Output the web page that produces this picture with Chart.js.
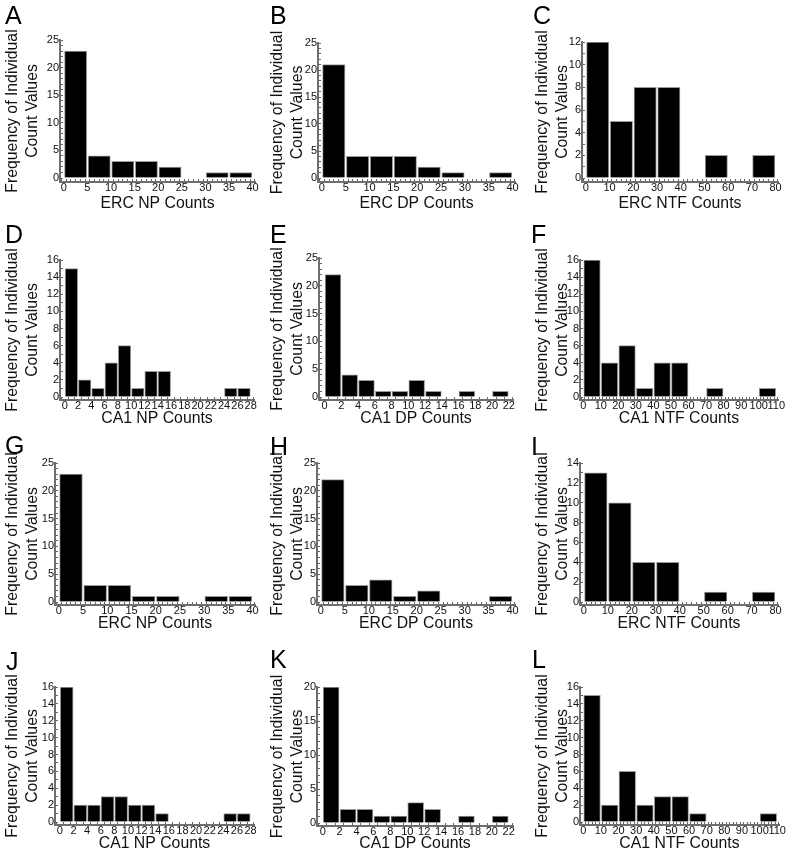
<!DOCTYPE html>
<html><head><meta charset="utf-8">
<script src="https://cdn.jsdelivr.net/npm/chart.js@4"></script>
<style>
html,body{margin:0;padding:0;background:#fff;}
body{width:800px;height:856px;position:relative;overflow:hidden;font-family:"Liberation Sans",Arial,sans-serif;}
.cell{position:absolute;}
.letter{position:absolute;font-size:25px;line-height:1;color:#000;font-family:"Liberation Sans",Arial,sans-serif;}
</style></head><body>
<script>
// ---------- DATA ----------
const panelLetters = ['A','B','C','D','E','F','G','H','I','J','K','L'];
const xTitles = ['ERC NP Counts','ERC DP Counts','ERC NTF Counts',
                 'CA1 NP Counts','CA1 DP Counts','CA1 NTF Counts',
                 'ERC NP Counts','ERC DP Counts','ERC NTF Counts',
                 'CA1 NP Counts','CA1 DP Counts','CA1 NTF Counts'];
const yTitle = ['Frequency of Individual','Count Values'];

const countsA = [23,4,3,3,2,0,1,1];
const countsB = [21,4,4,4,2,1,0,1];
const countsC = [12,5,8,8,0,2,0,2];
const countsD = [15,2,1,4,6,1,3,3,0,0,0,0,1,1];
const countsE = [22,4,3,1,1,3,1,0,1,0,1];
const countsF = [16,4,6,1,4,4,0,1,0,0,1];
const countsG = [23,3,3,1,1,0,1,1];
const countsH = [22,3,4,1,2,0,0,1];
const countsI = [13,10,4,4,0,1,0,1];
const countsJ = [16,2,2,3,3,2,2,1,0,0,0,0,1,1];
const countsK = [20,2,2,1,1,3,2,0,1,0,1];
const countsL = [15,2,6,2,3,3,1,0,0,0,1];
const allCounts = [countsA,countsB,countsC,countsD,countsE,countsF,countsG,countsH,countsI,countsJ,countsK,countsL];

const binWidths = [5,5,10,2,2,10,5,5,10,2,2,10];
const xMaxes    = [40,40,80,28,22,110,40,40,80,28,22,110];
const xMajor    = [5,5,10,2,2,10,5,5,10,2,2,10];
const xMinor    = [1,1,2,1,1,2,1,1,2,1,1,2];
const yMaxes    = [25,25,12,16,25,16,25,25,14,16,20,16];
const yMajor    = [5,5,2,2,5,2,5,5,2,2,5,2];
const yMinor    = [1,1,1,1,1,1,1,1,1,1,1,1];

// ---------- LAYOUT (pixel geometry of each panel) ----------
const cells = [
  {x:0,  y:0,  w:265,h:215, axisX:60,  yTop:40,  y0:178, xLine:182, xEnd:255, titleY:203.5, lx:5,  ly:6},
  {x:265,y:0,  w:265,h:215, axisX:318, yTop:43,  y0:178, xLine:182, xEnd:515, titleY:203.5, lx:270,ly:6},
  {x:530,y:0,  w:270,h:215, axisX:582, yTop:42,  y0:178, xLine:182, xEnd:778, titleY:203.5, lx:533,ly:6},
  {x:0,  y:215,w:265,h:215, axisX:60,  yTop:260, y0:397, xLine:400, xEnd:254, titleY:419, lx:5,  ly:225},
  {x:265,y:215,w:265,h:215, axisX:319, yTop:258, y0:397, xLine:400, xEnd:513, titleY:419, lx:270,ly:225},
  {x:530,y:215,w:270,h:215, axisX:580, yTop:260, y0:397, xLine:400, xEnd:778, titleY:419, lx:531,ly:225},
  {x:0,  y:430,w:265,h:215, axisX:55,  yTop:463, y0:602, xLine:605, xEnd:255, titleY:623.5, lx:5,  ly:436},
  {x:265,y:430,w:265,h:215, axisX:317, yTop:463, y0:602, xLine:605, xEnd:515, titleY:623.5, lx:270,ly:437},
  {x:530,y:430,w:270,h:215, axisX:580, yTop:463, y0:602, xLine:605, xEnd:778, titleY:623.5, lx:531,ly:437},
  {x:0,  y:645,w:265,h:211, axisX:55,  yTop:687, y0:822, xLine:825, xEnd:254, titleY:843.5, lx:6,  ly:652},
  {x:265,y:645,w:265,h:211, axisX:317, yTop:687, y0:823, xLine:826, xEnd:513, titleY:843.5, lx:270,ly:650},
  {x:530,y:645,w:270,h:211, axisX:580, yTop:687, y0:822, xLine:825, xEnd:779, titleY:843.5, lx:532,ly:650}
];

const FONT = '"Liberation Sans", Arial, sans-serif';
const TITLE_SIZE = 15.8, TITLE_LH = 1.27;
const TICK_SIZE = 11;
const isMult = (v, s) => Math.abs(v / s - Math.round(v / s)) < 1e-6;

cells.forEach((c, i) => {
  const div = document.createElement('div');
  div.className = 'cell';
  div.style.left = c.x + 'px'; div.style.top = c.y + 'px';
  div.style.width = c.w + 'px'; div.style.height = c.h + 'px';
  const cv = document.createElement('canvas');
  cv.width = c.w; cv.height = c.h;
  cv.style.width = c.w + 'px'; cv.style.height = c.h + 'px';
  div.appendChild(cv);
  document.body.appendChild(div);

  const lt = document.createElement('div');
  lt.className = 'letter';
  lt.textContent = panelLetters[i];
  lt.style.left = c.lx + 'px';
  lt.style.top = (c.ly - 3.3) + 'px';
  document.body.appendChild(lt);

  const bw = binWidths[i];
  const data = allCounts[i].map((v, k) => ({x: k * bw + bw / 2, y: v}));
  const yMax = yMaxes[i], xMax = xMaxes[i];
  const yMin = -(c.xLine - c.y0) / (c.y0 - c.yTop) * yMax;
  const xMin = -1.5 / (c.xEnd - c.axisX) * xMax;
  const lh = TITLE_SIZE * TITLE_LH;
  const xTitlePadBottom = (c.y + c.h) - c.titleY - lh / 2;

  new Chart(cv, {
    type: 'bar',
    data: { datasets: [{
      data: data,
      backgroundColor: '#000',
      borderColor: '#9a9a9a',
      borderWidth: 1,
      barThickness: 'flex',
      categoryPercentage: 0.94,
      barPercentage: 1
    }]},
    options: {
      responsive: false,
      animation: false,
      events: [],
      plugins: { legend: {display: false}, tooltip: {enabled: false} },
      layout: { padding: { left: 0, top: c.yTop - c.y, right: (c.x + c.w) - c.xEnd, bottom: 0 } },
      scales: {
        x: {
          type: 'linear', min: xMin, max: xMax,
          afterBuildTicks: s => { s.ticks = s.ticks.filter(t => t.value >= -1e-6 && t.value <= xMax + 1e-6); },
          afterFit: s => { s.height = (c.y + c.h) - c.xLine; },
          ticks: {
            stepSize: xMinor[i], includeBounds: false, autoSkip: false,
            maxRotation: 0, minRotation: 0, padding: 2.5, color: '#111',
            font: {family: FONT, size: TICK_SIZE},
            callback: v => isMult(v, xMajor[i]) ? String(Math.round(v)) : ''
          },
          grid: { display: true, drawOnChartArea: false, drawTicks: true, tickLength: -3, color: '#666' },
          border: { display: true, color: '#6e6e6e', width: 2 },
          title: { display: true, text: xTitles[i], color: '#111',
                   font: {family: FONT, size: TITLE_SIZE, lineHeight: TITLE_LH},
                   padding: {top: 0, bottom: xTitlePadBottom} }
        },
        y: {
          type: 'linear', min: yMin, max: yMax,
          afterBuildTicks: s => { s.ticks = s.ticks.filter(t => t.value >= -1e-6 && t.value <= yMax + 1e-6); },
          afterFit: s => { s.width = c.axisX - c.x; },
          ticks: {
            stepSize: yMinor[i], includeBounds: false, autoSkip: false, padding: 4, color: '#111',
            font: {family: FONT, size: TICK_SIZE},
            callback: v => isMult(v, yMajor[i]) ? String(Math.round(v)) : ''
          },
          grid: { display: true, drawOnChartArea: false, drawTicks: true, tickLength: -3, color: '#666' },
          border: { display: true, color: '#6e6e6e', width: 2 },
          title: { display: true, text: yTitle, color: '#111',
                   font: {family: FONT, size: TITLE_SIZE, lineHeight: TITLE_LH},
                   padding: {top: 3, bottom: 0} }
        }
      }
    }
  });
});
</script>
</body></html>
